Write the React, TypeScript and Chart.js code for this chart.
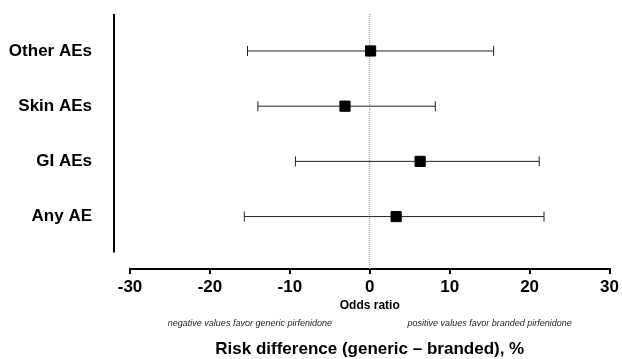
import React, { useEffect, useRef } from "react";
import { Chart, registerables } from "chart.js";

Chart.register(...registerables);

const categories = ["Other AEs", "Skin AEs", "GI AEs", "Any AE"];
const estimates = [0.1, -3.1, 6.3, 3.3];
const lowerCI = [-15.3, -14.0, -9.3, -15.7];
const upperCI = [15.5, 8.2, 21.2, 21.8];
const xTickLabels = ["-30", "-20", "-10", "0", "10", "20", "30"];
const xAxisLabel = "Odds ratio";
const leftNote = "negative values favor generic pirfenidone";
const rightNote = "positive values favor branded pirfenidone";
const mainTitle = "Risk difference (generic – branded), %";

const FONT = "'Liberation Sans', Arial, sans-serif";
const Y_MIN = 0.05;
const Y_MAX = 4.67;
const Y_LINE_BOTTOM = 0.35;

// category i -> y value (top category highest)
const yOf = (i: number) => categories.length - i;

const overlayPlugin = {
  id: "overlay",
  afterDraw(chart: any) {
    const { ctx, chartArea, scales } = chart;
    const x = scales.x;
    const y = scales.y;
    ctx.save();
    // vertical y-axis line (offset)
    ctx.strokeStyle = "#000";
    ctx.lineWidth = 2;
    ctx.beginPath();
    const lx = chartArea.left - 16;
    ctx.moveTo(lx, y.getPixelForValue(Y_MAX));
    ctx.lineTo(lx, y.getPixelForValue(Y_LINE_BOTTOM));
    ctx.stroke();

    ctx.fillStyle = "#000";
    ctx.textAlign = "center";
    ctx.textBaseline = "middle";
    ctx.font = `bold 12px ${FONT}`;
    ctx.fillText(xAxisLabel, x.getPixelForValue(0), 306);

    ctx.fillStyle = "#222";
    ctx.font = `italic 9px ${FONT}`;
    ctx.fillText(leftNote, x.getPixelForValue(-15), 323);
    ctx.fillText(rightNote, x.getPixelForValue(15), 323);

    ctx.fillStyle = "#000";
    ctx.font = `bold 17px ${FONT}`;
    ctx.fillText(mainTitle, x.getPixelForValue(0), 349);
    ctx.restore();
  },
};

export default function App() {
  const ref = useRef<HTMLCanvasElement>(null);
  useEffect(() => {
    if (!ref.current) return;
    const errorSets = categories.map((c, i) => ({
      type: "line" as const,
      label: c + " CI",
      data: [
        { x: lowerCI[i], y: yOf(i) },
        { x: upperCI[i], y: yOf(i) },
      ],
      borderColor: "#222",
      borderWidth: 1,
      pointStyle: "line" as const,
      pointRotation: 90,
      pointRadius: 5,
      pointBorderWidth: 1,
      pointBorderColor: "#222",
      pointHoverRadius: 5,
      order: 1,
    }));
    const chart = new Chart(ref.current, {
      type: "scatter",
      data: {
        datasets: [
          {
            type: "scatter" as const,
            label: "Estimate",
            data: categories.map((_, i) => ({ x: estimates[i], y: yOf(i) })),
            pointStyle: "rect",
            pointRadius: 7.2,
            pointBackgroundColor: "#000",
            pointBorderColor: "#000",
            pointBorderWidth: 1,
            order: 0,
          },
          ...errorSets,
          {
            type: "line" as const,
            label: "zero",
            data: [
              { x: 0, y: Y_MIN },
              { x: 0, y: Y_MAX },
            ],
            borderColor: "#888",
            borderWidth: 1,
            borderDash: [1, 1],
            pointRadius: 0,
            order: 2,
          },
        ] as any,
      },
      plugins: [overlayPlugin],
      options: {
        responsive: false,
        animation: false,
        layout: { padding: { left: 0, right: 12, top: 14, bottom: 0 } },
        plugins: {
          legend: { display: false },
          tooltip: { enabled: false },
          title: { display: false },
        },
        scales: {
          x: {
            type: "linear",
            min: -30,
            max: 30,
            afterFit: (s: any) => {
              s.height = 90;
            },
            afterBuildTicks: (s: any) => {
              s.ticks = xTickLabels.map((t) => ({ value: Number(t) }));
            },
            border: { display: true, color: "#000", width: 2 },
            grid: {
              display: true,
              drawOnChartArea: false,
              drawTicks: true,
              tickLength: 5,
              color: "#000",
              lineWidth: 2,
            },
            ticks: {
              padding: 3,
              color: "#000",
              font: { family: FONT, size: 17, weight: "bold" },
              maxRotation: 0,
              callback: (_v: any, idx: number) => xTickLabels[idx],
            },
          },
          y: {
            type: "linear",
            min: Y_MIN,
            max: Y_MAX,
            afterFit: (s: any) => {
              s.width = 130;
              s.paddingTop = 0;
              s.paddingBottom = 0;
            },
            afterBuildTicks: (s: any) => {
              s.ticks = categories.map((_, i) => ({ value: yOf(i) }));
            },
            border: { display: false },
            grid: { display: false, drawTicks: true, tickLength: 38 },
            ticks: {
              padding: 0,
              color: "#000",
              font: { family: FONT, size: 17, weight: "bold" },
              callback: (v: any) => categories[categories.length - Number(v)],
            },
          },
        },
      },
    });
    return () => chart.destroy();
  }, []);
  return (
    <div style={{ position: "fixed", left: 0, top: 0, width: 622, height: 359, background: "#fff" }}>
      <canvas ref={ref} width={622} height={359} style={{ display: "block" }} />
    </div>
  );
}
